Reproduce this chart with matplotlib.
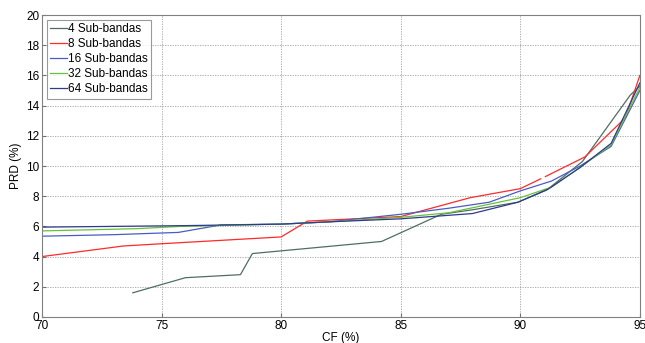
import numpy as np
import matplotlib.pyplot as plt

plt.rcParams['font.family'] = ['Liberation Sans', 'DejaVu Sans']

# CF (%) / PRD (%) por numero de sub-bandas
cf4 = [73.8, 76.0, 78.3, 78.8, 84.2, 86.7, 88.0, 89.9, 91.1, 92.6, 94.6, 95.0]
prd4 = [1.6, 2.6, 2.8, 4.2, 5.0, 6.8, 7.1, 7.6, 8.4, 10.3, 14.7, 15.3]

cf8 = [70.0, 73.4, 75.0, 80.0, 81.1, 85.0, 87.9, 90.0, 90.85, np.nan, 91.05, 92.7, 94.4, 95.0]
prd8 = [4.0, 4.7, 4.85, 5.3, 6.35, 6.65, 7.9, 8.5, 9.15, np.nan, 9.3, 10.6, 13.2, 16.0]

cf16 = [70.0, 73.0, 75.7, 77.5, 80.0, 82.0, 85.0, 87.0, 88.7, 90.0, 91.3, 92.5, 93.8, 95.0]
prd16 = [5.35, 5.45, 5.6, 6.1, 6.15, 6.3, 6.8, 7.2, 7.6, 8.35, 9.0, 10.0, 11.3, 15.0]

cf32 = [70.0, 74.0, 75.8, 80.0, 82.0, 85.0, 87.0, 90.0, 91.3, 92.5, 93.8, 95.0]
prd32 = [5.7, 5.85, 6.0, 6.15, 6.3, 6.6, 6.9, 7.9, 8.6, 9.9, 11.4, 15.2]

cf64 = [70.0, 76.0, 80.0, 82.0, 85.0, 88.0, 89.9, 91.2, 92.5, 93.8, 95.0]
prd64 = [5.95, 6.05, 6.15, 6.3, 6.5, 6.85, 7.6, 8.5, 9.9, 11.5, 15.5]

series = [(cf4, prd4, '#4f6e60', '4 Sub-bandas'),
          (cf8, prd8, '#ff2a2a', '8 Sub-bandas'),
          (cf16, prd16, '#4a5cc4', '16 Sub-bandas'),
          (cf32, prd32, '#66c23a', '32 Sub-bandas'),
          (cf64, prd64, '#2e3a8c', '64 Sub-bandas')]

fig = plt.figure(figsize=(6.45, 3.43), dpi=100)
ax = fig.add_axes([0.065, 0.076, 0.927, 0.880])

for x, y, c, lab in series:
    ax.plot(x, y, color=c, lw=0.9, label=lab)

ax.set_xlim(70, 95)
ax.set_ylim(0, 20)
ax.set_xticks(np.arange(70, 96, 5))
ax.set_yticks(np.arange(0, 21, 2))
ax.grid(True, color='#a0a0a0', linestyle=(0, (1.5, 1.5)), lw=0.6)
ax.tick_params(direction='in', labelsize=8.5, color='#707070', length=3, pad=2)
for s in ax.spines.values():
    s.set_color('#808080')
ax.set_xlabel('CF (%)', fontsize=8.5, labelpad=0)
ax.set_ylabel('PRD (%)', fontsize=8.5, labelpad=3)

leg = ax.legend(loc='upper left', fontsize=8.5, fancybox=False, handlelength=1.4,
                handletextpad=0.1, borderaxespad=0.4, labelspacing=0.25,
                borderpad=0.3)
leg.get_frame().set_edgecolor('#808080')
leg.get_frame().set_linewidth(0.8)

plt.savefig('out.png', dpi=100)
